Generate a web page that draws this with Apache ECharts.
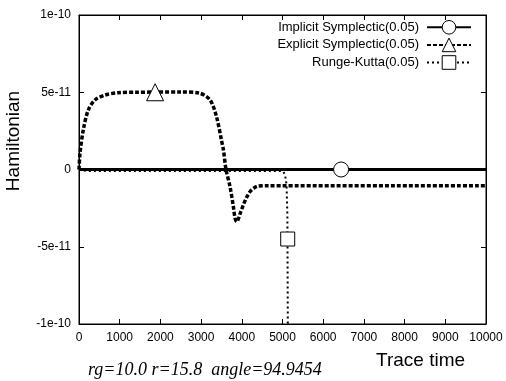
<!DOCTYPE html>
<html>
<head>
<meta charset="utf-8">
<script src="https://cdn.jsdelivr.net/npm/echarts@6/dist/echarts.min.js"></script>
<style>
  html, body { margin: 0; padding: 0; background: #fff; }
  #chart { width: 506px; height: 381px; }
</style>
</head>
<body>
<div id="chart"></div>
<script>
// names of the runs
var seriesNames = ['Implicit Symplectic(0.05)', 'Explicit Symplectic(0.05)', 'Runge-Kutta(0.05)'];

// [trace time, hamiltonian]
var implicitData = [[0, 0], [10000, 0]];
var explicitData = [
    [0, 0], [25, 1.05e-11], [105, 2.56e-11], [228, 3.85e-11], [393, 4.5e-11],
    [640, 4.82e-11], [966, 4.97e-11], [1400, 5.0e-11], [2500, 5.02e-11], [2950, 4.95e-11],
    [3220, 4.5e-11], [3380, 3.4e-11], [3500, 1.9e-11], [3547, 1.3e-11], [3612, 0],
    [3710, -1.1e-11], [3792, -2.4e-11], [3835, -3.15e-11], [3875, -3.38e-11], [3915, -3.2e-11],
    [3960, -2.85e-11], [4037, -2.3e-11], [4120, -1.8e-11], [4200, -1.44e-11], [4300, -1.2e-11],
    [4405, -1.07e-11], [4600, -1.05e-11], [10000, -1.05e-11]
];
var rkData = [
    [0, 0], [200, -0.1e-11], [5000, -0.1e-11], [5060, -0.3e-11], [5100, -1.0e-11],
    [5120, -3e-11], [5135, -1.3e-10]
];

// where gnuplot put its single point marker on each curve
var implicitMarker = [6440, 0];
var explicitMarker = [1870, 5e-11];
var rkMarker = [5128, -4.5e-11];

var xTicks = [0, 10000, 1000];
var yTicks = [-1e-10, 1e-10, 5e-11];

var chart = echarts.init(document.getElementById('chart'));

function fmtY(v) {
    if (Math.abs(v) < 1e-15) return '0';
    return v.toExponential(0);
}

function marker(sym, size, pos) {
    return {
        symbol: sym,
        symbolSize: size,
        silent: true,
        label: { show: false },
        itemStyle: { color: '#fff', borderColor: '#000', borderWidth: 1 },
        data: [{ coord: pos }]
    };
}

var labelFont = { color: '#000', fontSize: 12, fontFamily: 'Liberation Sans' };

var option = {
    animation: false,
    backgroundColor: '#fff',
    grid: {
        left: 79, right: 20, top: 15, bottom: 57,
        show: true, borderColor: '#000', borderWidth: 1
    },
    legend: {
        data: seriesNames,
        orient: 'vertical',
        right: 29,
        top: 15,
        align: 'right',
        itemWidth: 44,
        itemHeight: 17,
        itemGap: 3,
        itemStyle: { borderWidth: 1 },
        textStyle: { color: '#000', fontSize: 13, fontFamily: 'Liberation Sans', padding: [0, 3, 0, 0] }
    },
    xAxis: [
        {
            type: 'value', min: xTicks[0], max: xTicks[1], interval: xTicks[2],
            splitLine: { show: false },
            axisLine: { onZero: false, lineStyle: { color: '#000' } },
            axisTick: { inside: true, length: 5, lineStyle: { color: '#000' } },
            axisLabel: Object.assign({ margin: 8, formatter: function (v) { return String(v); } }, labelFont)
        },
        {
            type: 'value', position: 'top', min: xTicks[0], max: xTicks[1], interval: xTicks[2],
            splitLine: { show: false },
            axisLine: { onZero: false, lineStyle: { color: '#000' } },
            axisTick: { inside: true, length: 5, lineStyle: { color: '#000' } },
            axisLabel: { show: false }
        }
    ],
    yAxis: [
        {
            type: 'value', min: yTicks[0], max: yTicks[1], interval: yTicks[2],
            splitLine: { show: false },
            axisLine: { onZero: false, lineStyle: { color: '#000' } },
            axisTick: { inside: true, length: 5, lineStyle: { color: '#000' } },
            axisLabel: Object.assign({ margin: 8, formatter: fmtY }, labelFont)
        },
        {
            type: 'value', position: 'right', min: yTicks[0], max: yTicks[1], interval: yTicks[2],
            splitLine: { show: false },
            axisLine: { onZero: false, lineStyle: { color: '#000' } },
            axisTick: { inside: true, length: 5, lineStyle: { color: '#000' } },
            axisLabel: { show: false }
        }
    ],
    graphic: [
        {
            type: 'text', x: 14, y: 141, rotation: Math.PI / 2,
            style: { text: 'Hamiltonian', fill: '#000', font: '19px "Liberation Sans"', align: 'center', verticalAlign: 'middle' }
        },
        {
            type: 'text', left: 376, top: 351,
            style: { text: 'Trace time', fill: '#000', font: '19px "Liberation Sans"' }
        },
        {
            type: 'text', left: 88, top: 361,
            style: { text: 'rg=10.0 r=15.8  angle=94.9454', fill: '#000', font: 'italic 18px "Liberation Serif"' }
        }
    ],
    series: [
        {
            name: seriesNames[2],
            type: 'line',
            data: rkData,
            symbol: 'rect',
            showSymbol: false,
            z: 2,
            lineStyle: { color: '#000', width: 2, type: [2, 3] },
            itemStyle: { color: '#fff', borderColor: '#000', borderWidth: 1 },
            markPoint: marker('rect', 14, rkMarker)
        },
        {
            name: seriesNames[1],
            type: 'line',
            data: explicitData,
            smooth: 0.3,
            symbol: 'triangle',
            showSymbol: false,
            z: 3,
            lineStyle: { color: '#000', width: 3.5, type: [4, 2] },
            itemStyle: { color: '#fff', borderColor: '#000', borderWidth: 1 },
            markPoint: marker('triangle', 17, explicitMarker)
        },
        {
            name: seriesNames[0],
            type: 'line',
            data: implicitData,
            symbol: 'circle',
            showSymbol: false,
            z: 4,
            lineStyle: { color: '#000', width: 3 },
            itemStyle: { color: '#fff', borderColor: '#000', borderWidth: 1 },
            markPoint: marker('circle', 15, implicitMarker)
        }
    ]
};

chart.setOption(option);
window.addEventListener('resize', chart.resize);
</script>
</body>
</html>
